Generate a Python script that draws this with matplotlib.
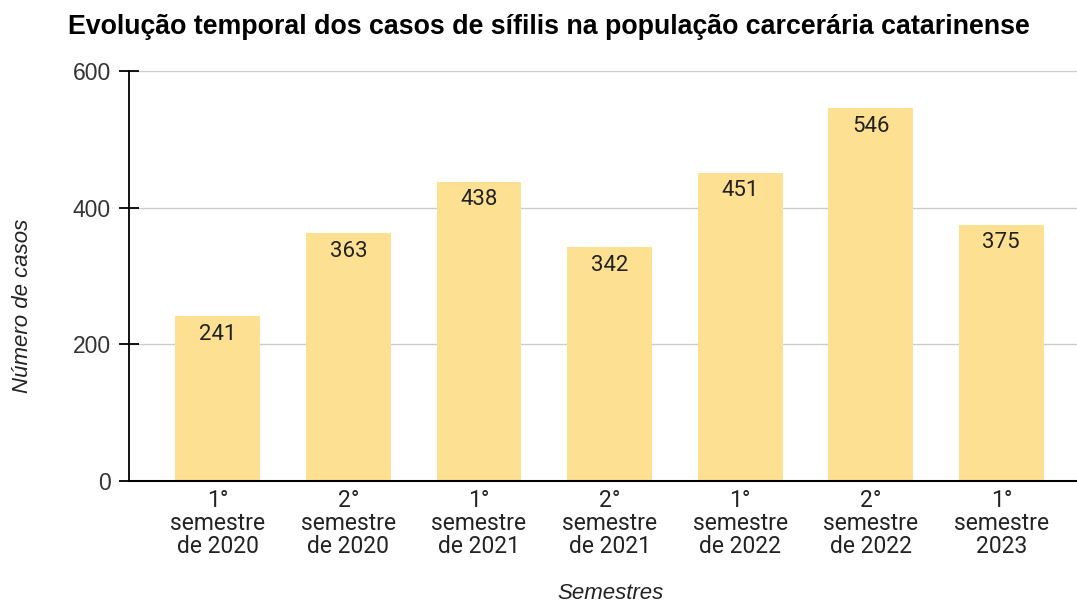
import matplotlib.pyplot as plt

categorias = ["1°\nsemestre\nde 2020", "2°\nsemestre\nde 2020", "1°\nsemestre\nde 2021",
              "2°\nsemestre\nde 2021", "1°\nsemestre\nde 2022", "2°\nsemestre\nde 2022",
              "1°\nsemestre\n2023"]
casos = [241, 363, 438, 342, 451, 546, 375]
y_ticks = [0, 200, 400, 600]

cor_barra = "#fde091"

fig = plt.figure(figsize=(10.77, 6.05), dpi=100)
ax = fig.add_axes([0.1198, 0.205, 0.8802, 0.6774])

x = list(range(len(categorias)))
ax.bar(x, casos, width=0.65, color=cor_barra, zorder=2)

for xi, v in zip(x, casos):
    ax.annotate(str(v), (xi, v), xytext=(0, -18), textcoords="offset pixels",
                ha="center", va="center", fontsize=16, family="Roboto",
                color="#222222", zorder=3)

ax.set_ylim(0, 600)
ax.set_xlim(-0.68, 6.58)
ax.set_yticks(y_ticks)
ax.set_yticklabels([str(t) for t in y_ticks], fontsize=16.5, family="Liberation Sans", color="#333333")
ax.set_xticks(x)
ax.set_xticklabels(categorias, fontsize=16.5, family="Roboto", color="#222222", linespacing=1.0)
ax.tick_params(axis="y", direction="inout", length=14.4, width=1.3, pad=6)
ax.tick_params(axis="x", length=0, pad=6)

ax.grid(axis="y", color="#cccccc", linewidth=1, zorder=0)
ax.set_axisbelow(True)
for s in ["top", "right"]:
    ax.spines[s].set_visible(False)
ax.spines["left"].set_linewidth(1.3)
ax.spines["bottom"].set_linewidth(1.5)

fig.text(0.021, 0.495, "Número de casos", fontsize=16, style="italic", family="Liberation Sans",
         color="#222222", rotation=90, ha="center", va="center")
fig.text(0.567, 0.002, "Semestres", fontsize=16, style="italic", family="Liberation Sans",
         color="#222222", ha="center", va="bottom")

fig.text(0.063, 0.955, "Evolução temporal dos casos de sífilis na população carcerária catarinense",
         fontsize=19.3, fontweight="bold", family="Liberation Sans", ha="left", va="center")

fig.savefig("out.png", dpi=100)
